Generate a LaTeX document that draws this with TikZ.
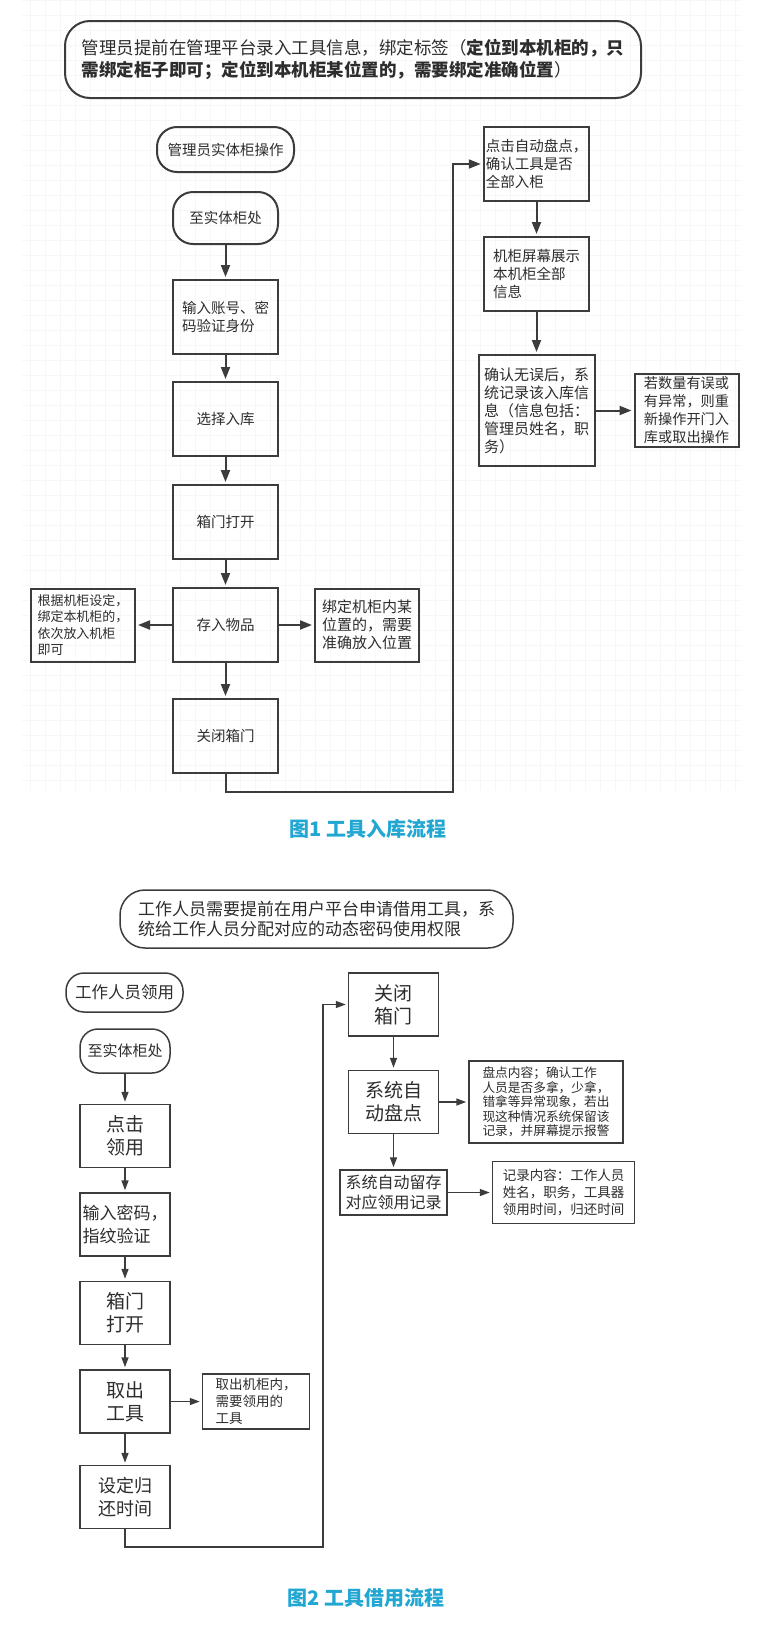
\documentclass[tikz,border=0pt]{standalone}
\usepackage{fontspec}
\setmainfont{Noto Sans CJK SC}
\usepackage{xcolor}
\usepackage{tikz}
\usetikzlibrary{arrows.meta}
\usetikzlibrary{positioning}

\definecolor{linegray}{RGB}{60,60,60}
\definecolor{textgray}{RGB}{45,45,45}
\definecolor{captionblue}{RGB}{34,166,210}

\newcommand{\fs}[2]{\fontsize{#1}{#2}\selectfont}

\begin{document}
\begin{tikzpicture}[x=1pt,y=-1pt,
	gridline/.style={draw=black!3,line width=0.4pt},
	flowbox/.style={draw=linegray,line width=2pt,text=textgray,align=left,inner sep=2pt,minimum width=105pt,minimum height=74pt,font=\fs{14.5}{18}},
	pillbox/.style={flowbox,rounded corners=20pt},
	notebox/.style={flowbox,minimum width=104pt,minimum height=73pt},
	flowarrow/.style={draw=linegray,line width=2pt,-{Triangle[length=12pt,width=9pt]},shorten >=2pt},
	usebox/.style={draw=linegray,line width=1.5pt,text=textgray,align=center,inner sep=2pt,minimum width=90pt,minimum height=63pt,font=\fs{19}{23}},
	usenote/.style={usebox,align=left,font=\fs{13.5}{17}},
	usearrow/.style={draw=linegray,line width=1.5pt,-{Triangle[length=10pt,width=7pt]},shorten >=2pt},
	capt/.style={text=captionblue,font=\bfseries\fs{20}{24}}]

	\useasboundingbox (0,0) rectangle (756,1633);
	\fill[white] (0,0) rectangle (756,1633);
	\draw[gridline,step=15pt] (22,0) grid (742,790);

	% storing tools
	\node[flowbox,rounded corners=25pt,minimum width=576pt,minimum height=77pt,font=\fs{17.5}{22}] (store note) at (353,59.5) {管理员提前在管理平台录入工具信息，绑定标签（\textbf{定位到本机柜的，只}\\\textbf{需绑定柜子即可；定位到本机柜某位置的，需要绑定准确位置}）};

	\node[pillbox,minimum width=137pt,minimum height=45pt] (admin) at (225.5,149.5) {管理员实体柜操作};
	\node[pillbox,minimum height=52pt] (cabinet) at (225.5,218) {至实体柜处};
	\node[flowbox,below=34pt of cabinet] (login) {输入账号、密\\码验证身份};
	\node[flowbox,below=26pt of login] (choose) {选择入库};
	\node[flowbox,below=27pt of choose] (open door) {箱门打开};
	\node[flowbox,below=27pt of open door] (deposit) {存入物品};
	\node[notebox,left=36pt of deposit,font=\fs{13}{16.5}] (whole cabinet) {根据机柜设定，\\绑定本机柜的，\\依次放入机柜\\即可};
	\node[notebox,right=35pt of deposit,font=\fs{15}{18}] (exact place) {绑定机柜内某\\位置的，需要\\准确放入位置};
	\node[flowbox,below=35pt of deposit] (close door) {关闭箱门};

	\node[flowbox] (check) at (536.5,164) {点击自动盘点，\\确认工具是否\\全部入柜};
	\node[flowbox,below=34pt of check] (screen) {机柜屏幕展示\\本机柜全部\\信息};
	\node[flowbox,below=42pt of screen,minimum width=116pt,minimum height=111pt,font=\fs{15}{18}] (record) {确认无误后，系\\统记录该入库信\\息（信息包括：\\管理员姓名，职\\务）};
	\node[notebox,right=38pt of record,font=\fs{14.2}{18}] (retry) {若数量有误或\\有异常，则重\\新操作开门入\\库或取出操作};

	\coordinate (store turn) at (453,792);

	\draw[flowarrow] (cabinet) -- (login);
	\draw[flowarrow] (login) -- (choose);
	\draw[flowarrow] (choose) -- (open door);
	\draw[flowarrow] (open door) -- (deposit);
	\draw[flowarrow] (deposit) -- (whole cabinet);
	\draw[flowarrow] (deposit) -- (exact place);
	\draw[flowarrow] (deposit) -- (close door);
	\draw[flowarrow] (close door.south) |- (store turn) |- (check.west);
	\draw[flowarrow] (check) -- (screen);
	\draw[flowarrow] (screen) -- (record);
	\draw[flowarrow] (record) -- (retry);

	\node[capt] (store caption) at (368,829) {图1 工具入库流程};

	% borrowing tools
	\node[flowbox,line width=1.5pt,rounded corners=25pt,minimum width=393pt,minimum height=58pt,font=\fs{17}{20}] (borrow note) at (316.5,919) {工作人员需要提前在用户平台申请借用工具，系\\统给工作人员分配对应的动态密码使用权限};

	\node[usebox,rounded corners=18pt,minimum width=117pt,minimum height=39pt,font=\fs{16.5}{20}] (worker) at (124.5,992.5) {工作人员领用};
	\node[usebox,rounded corners=18pt,minimum height=44pt,font=\fs{15}{18}] (cabinet2) at (125,1051) {至实体柜处};
	\node[usebox,below=30pt of cabinet2] (click) {点击\\领用};
	\node[usebox,below=24pt of click,align=left,font=\fs{17}{23}] (password) {输入密码，\\指纹验证};
	\node[usebox,below=24pt of password] (open door2) {箱门\\打开};
	\node[usebox,below=24pt of open door2] (take) {取出\\工具};
	\node[usenote,right=31pt of take,minimum width=107pt,minimum height=55pt] (take note) {取出机柜内，\\需要领用的\\工具};
	\node[usebox,below=31pt of take,font=\fs{18}{23}] (return time) {设定归\\还时间};

	\node[usebox] (close door2) at (393.5,1004.5) {关闭\\箱门};
	\node[usebox,below=33pt of close door2] (auto check) {系统自\\动盘点};
	\node[usenote,right=29pt of auto check,minimum width=154pt,minimum height=82pt,font=\fs{12.7}{14.5}] (check note) {盘点内容；确认工作\\人员是否多拿，少拿，\\错拿等异常现象，若出\\现这种情况系统保留该\\记录，并屏幕提示报警};
	\node[usebox,below=35pt of auto check,minimum width=107pt,minimum height=45pt,font=\fs{16}{20}] (auto save) {系统自动留存\\对应领用记录};
	\node[usenote,right=44pt of auto save,minimum width=142pt,minimum height=62pt] (save note) {记录内容：工作人员\\姓名，职务，工具器\\领用时间，归还时间};

	\coordinate (borrow turn) at (323,1547);

	\draw[usearrow] (cabinet2) -- (click);
	\draw[usearrow] (click) -- (password);
	\draw[usearrow] (password) -- (open door2);
	\draw[usearrow] (open door2) -- (take);
	\draw[usearrow] (take) -- (take note);
	\draw[usearrow] (take) -- (return time);
	\draw[usearrow] (return time.south) |- (borrow turn) |- (close door2.west);
	\draw[usearrow] (close door2) -- (auto check);
	\draw[usearrow] (auto check) -- (check note);
	\draw[usearrow] (auto check.south) -- (auto check.south |- auto save.north);
	\draw[usearrow] (auto save) -- (save note);

	\node[capt] (borrow caption) at (366,1598) {图2 工具借用流程};

\end{tikzpicture}
\end{document}
